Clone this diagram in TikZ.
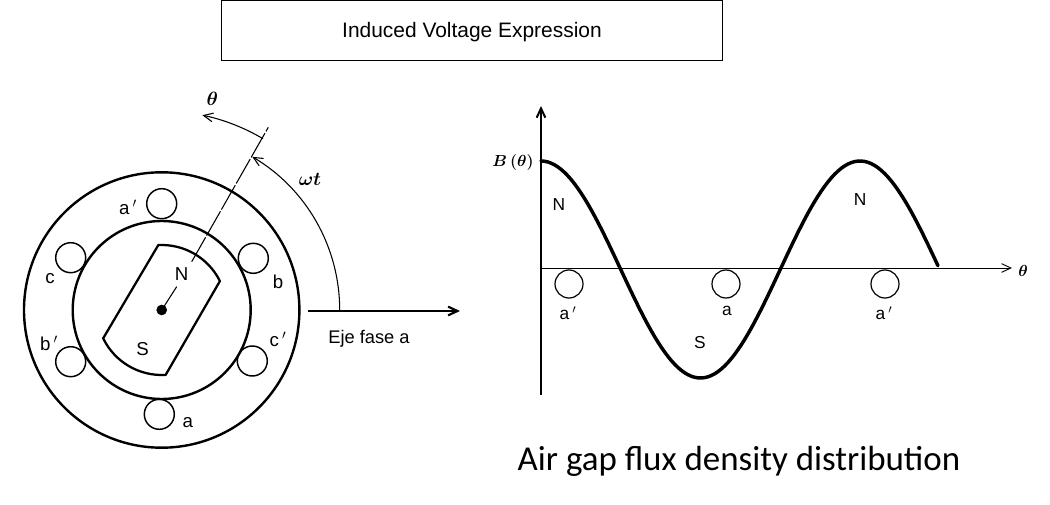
\documentclass[tikz,border=0pt]{standalone}
\usepackage{fontspec}
\usepackage{amsmath}
\setmainfont{Liberation Sans}
\newfontfamily\captionfont{Carlito}
\usetikzlibrary{calc}
\usetikzlibrary{arrows.meta}
\usetikzlibrary{positioning}
\tikzset{
    >={Straight Barb[length=7pt, width=6.5pt]},
    slot/.style={draw, circle, line width=1.1pt, minimum size=22.5pt, inner sep=0pt},
    polelabel/.style={font=\fontsize{14}{16}\selectfont, inner sep=0pt},
    plotlabel/.style={font=\fontsize{13}{15}\selectfont, inner sep=0pt},
    anglelabel/.style={font=\fontsize{14}{16}\selectfont, inner sep=0pt},
    curveline/.style={line width=2.6pt, line cap=round}
}
\begin{document}
\begin{tikzpicture}[x=0.75pt, y=0.75pt]
    \useasboundingbox (0,0) rectangle (1050,504);
    % title
    \node[draw, line width=0.6pt, minimum width=376pt, minimum height=45pt, inner sep=0pt] (title) at (472,474) {};
    \node[font=\fontsize{15.7}{18}\selectfont, inner sep=0pt] (titletext) at (472,471.5) {Induced Voltage Expression};
    % stator and rotor
    \coordinate (centre) at (161.7,194);
    \draw[line width=1.8pt] (centre) circle (137.7);
    \draw[line width=1.8pt] (centre) circle (89);
    \node[slot] (slotap) at (161.7,300.3) {};
    \node[slot] (slota)  at (159.3,89.7) {};
    \node[slot] (slotb)  at (253.3,245.7) {};
    \node[slot] (slotc)  at (70.7,246.3) {};
    \node[slot] (slotbp) at (70.7,142.3) {};
    \node[slot] (slotcp) at (252.3,143) {};
    \draw[line width=1.7pt, line join=round] ($(centre)+(93:65)$) arc[start angle=93, end angle=26.4, radius=65]
        -- ($(centre)+(-86.5:65)$) arc[start angle=-86.5, end angle=-154.2, radius=65] -- cycle;
    \filldraw[color=black] (centre) circle (5);
    % rotor axis
    \coordinate (rotortip) at (176.7,217.3);
    \coordinate (dashstart) at (191.7,242.3);
    \coordinate (dashend) at (268.3,376.7);
    \draw[line width=0.8pt] (centre) -- (rotortip);
    \draw[line width=0.8pt, dash pattern=on 21pt off 1.5pt] (dashstart) -- (dashend);
    % phase axis and angles
    \coordinate (axisstart) at (308.3,193);
    \coordinate (axisend) at (460,193);
    \draw[->, line width=1.6pt] (axisstart) -- (axisend);
    \draw[->, line width=0.8pt] ($(centre)+(0:178)$) arc[start angle=0, end angle=59.4, radius=178];
    \draw[->, line width=0.8pt] ($(centre)+(59.4:199)$) arc[start angle=59.4, end angle=78.2, radius=199];
    \node[anglelabel] (thetalabel) at (212.3,404.7) {$\boldsymbol{\theta}$};
    \node[anglelabel] (omegalabel) at (310,325) {$\boldsymbol{\omega t}$};
    \node[polelabel, font=\fontsize{13.7}{16}\selectfont] (ejelabel) at (369,165.7) {Eje fase a};
    % winding labels
    \node[polelabel] (labelap) at (128,297) {a\,$'$};
    \node[polelabel] (labelc)  at (50,225) {c};
    \node[polelabel] (labelb)  at (278,222.3) {b};
    \node[polelabel] (labelbp) at (49,161) {b\,$'$};
    \node[polelabel] (labelcp) at (278,165) {c\,$'$};
    \node[polelabel] (labela)  at (187.7,81) {a};
    \node[polelabel] (labeln)  at (181.7,229.7) {N};
    \node[polelabel] (labels)  at (142.7,154.7) {S};
    % flux density plot
    \coordinate (yorigin) at (541,109);
    \coordinate (ytop) at (541,398);
    \coordinate (xorigin) at (541,236);
    \coordinate (xend) at (1012,236);
    \draw[->, line width=1.5pt] (yorigin) -- (ytop);
    \draw[->, line width=0.7pt] (xorigin) -- (xend);
    \draw[curveline] plot[domain=0:448, samples=120] ({541+\x*0.8861}, {234.5+108.5*cos(\x)});
    \node[slot, line width=0.9pt, minimum size=21pt] (plotslota) at (569,220) {};
    \node[slot, line width=0.9pt, minimum size=21pt] (plotslotb) at (726,220) {};
    \node[slot, line width=0.9pt, minimum size=21pt] (plotslotc) at (885,220) {};
    \node[plotlabel] (plotlabela) at (568,191) {a\,$'$};
    \node[plotlabel] (plotlabelb) at (727,193) {a};
    \node[plotlabel] (plotlabelc) at (884,191) {a\,$'$};
    \node[plotlabel] (plotn) at (559,299) {N};
    \node[plotlabel] (plotnb) at (860,304) {N};
    \node[plotlabel] (plots) at (700,161) {S};
    \node[font=\fontsize{13}{15}\selectfont, inner sep=0pt] (bflux) at (513,341) {$\boldsymbol{B\,(\theta)}$};
    \node[anglelabel, font=\fontsize{12}{14}\selectfont] (plottheta) at (1023,233) {$\boldsymbol{\theta}$};
    \node[font=\captionfont\fontsize{26.2}{30}\selectfont, inner sep=0pt] (caption) at (739,43) {Air gap flux density distribution};
\end{tikzpicture}
\end{document}
